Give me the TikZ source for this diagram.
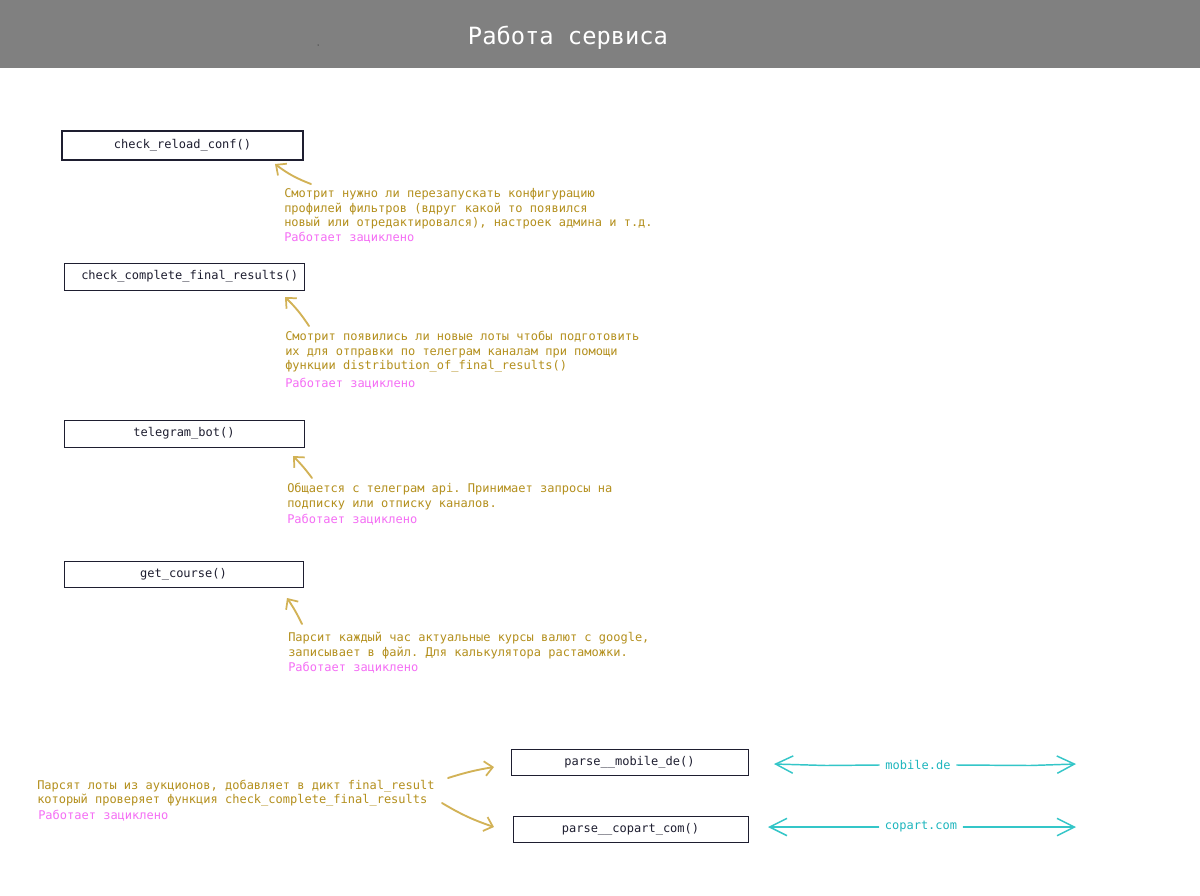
\documentclass[tikz,border=0pt]{standalone}
\usepackage{fontspec}
\setmonofont{DejaVu Sans Mono}
\usetikzlibrary{arrows.meta}
\definecolor{hdr}{RGB}{128,128,128}
\definecolor{gold}{RGB}{180,144,30}
\definecolor{goldarrow}{RGB}{210,178,86}
\definecolor{pinkc}{RGB}{245,110,245}
\definecolor{cyanc}{RGB}{52,198,200}
\definecolor{cyantext}{RGB}{30,182,190}
\definecolor{boxc}{RGB}{30,30,48}
\begin{document}
\begin{tikzpicture}[x=0.75pt,y=-0.75pt,
  fbox/.style={draw=boxc, line width=0.7pt, text=boxc, inner sep=0pt,
    font=\ttfamily\fontsize{9}{11}\selectfont},
  note/.style={text=gold, anchor=base west, inner sep=0pt,
    font=\ttfamily\fontsize{9}{11}\selectfont},
  loopnote/.style={note, text=pinkc},
  garrow/.style={draw=goldarrow, line width=1.4pt, line cap=round,
    -{Straight Barb[length=6pt,width=11pt,line width=1.3pt]}},
  carrow/.style={draw=cyanc, line width=1.1pt, line cap=round,
    -{Straight Barb[length=13pt,width=13pt,line width=1.1pt]}},
  clabel/.style={text=cyantext, inner sep=0pt,
    font=\ttfamily\fontsize{9}{11}\selectfont}
]
\useasboundingbox (0,0) rectangle (1200,896);
\fill[white] (0,0) rectangle (1200,896);
\fill[hdr] (0,0) rectangle (1200,68);
\node[text=white, inner sep=0pt, font=\ttfamily\fontsize{17.8}{20}\selectfont] (title) at (568,38) {Работа сервиса};
\fill[black] (318,45) circle (0.5);

% boxes
\node[fbox, line width=1pt, minimum width=241*0.75pt, minimum height=29*0.75pt] (b1) at (182.5,145.5) {check\_reload\_conf()};
\node[fbox, minimum width=240*0.75pt, minimum height=27*0.75pt, text width=228*0.75pt, align=right] (b2) at (184,276.5) {check\_complete\_final\_results()};
\node[fbox, minimum width=240*0.75pt, minimum height=27*0.75pt] (b3) at (184,433.5) {telegram\_bot()};
\node[fbox, minimum width=239*0.75pt, minimum height=26*0.75pt] (b4) at (183.5,574) {get\_course()};
\node[fbox, minimum width=237*0.75pt, minimum height=26*0.75pt] (b5) at (629.5,762) {parse\_\_mobile\_de()};
\node[fbox, minimum width=235*0.75pt, minimum height=26*0.75pt] (b6) at (630.5,829) {parse\_\_copart\_com()};

% block 1
\node[note] (t1a) at (284,197.5) {Смотрит нужно ли перезапускать конфигурацию};
\node[note] (t1b) at (284,212) {профилей фильтров (вдруг какой то появился};
\node[note] (t1c) at (284,226.5) {новый или отредактировался), настроек админа и т.д.};
\node[loopnote] (t1d) at (284,241.5) {Работает зациклено};
% block 2
\node[note] (t2a) at (285,340.5) {Смотрит появились ли новые лоты чтобы подготовить};
\node[note] (t2b) at (285,355) {их для отправки по телеграм каналам при помощи};
\node[note] (t2c) at (285,369.5) {функции distribution\_of\_final\_results()};
\node[loopnote] (t2d) at (285,387.5) {Работает зациклено};
% block 3
\node[note] (t3a) at (287,492.5) {Общается с телеграм api. Принимает запросы на};
\node[note] (t3b) at (287,507) {подписку или отписку каналов.};
\node[loopnote] (t3c) at (287,523.5) {Работает зациклено};
% block 4
\node[note] (t4a) at (288,641.5) {Парсит каждый час актуальные курсы валют с google,};
\node[note] (t4b) at (288,656) {записывает в файл. Для калькулятора растаможки.};
\node[loopnote] (t4c) at (288,671.5) {Работает зациклено};
% block 5
\node[note] (t5a) at (37,789.5) {Парсят лоты из аукционов, добавляет в дикт final\_result};
\node[note] (t5b) at (37,803.5) {который проверяет функция check\_complete\_final\_results};
\node[loopnote] (t5c) at (38,819.5) {Работает зациклено};

% gold arrows
\coordinate (a1s) at (311,184); \coordinate (a1e) at (275,164);
\coordinate (a2s) at (309,326); \coordinate (a2e) at (285,297);
\coordinate (a3s) at (312,478); \coordinate (a3e) at (293,456);
\coordinate (a4s) at (302,624); \coordinate (a4e) at (287,598);
\coordinate (a5s) at (448,778); \coordinate (a5e) at (494,767);
\coordinate (a6s) at (442,803); \coordinate (a6e) at (494,827);
\draw[garrow] (a1s) to[bend left=8] (a1e);
\draw[garrow] (a2s) to[bend right=6] (a2e);
\draw[garrow] (a3s) to[bend right=4] (a3e);
\draw[garrow] (a4s) to[bend right=4] (a4e);
\draw[garrow] (a5s) to[bend left=4] (a5e);
\draw[garrow] (a6s) to[bend right=6] (a6e);

% cyan arrows
\node[clabel] (m) at (918,765) {mobile.de};
\coordinate (m1) at (774,764); \coordinate (m2) at (1076,764);
\draw[carrow] (m.west) ++(-6,0) -- (826,765.5) -- (m1);
\draw[carrow] (m.east) ++(6,0) -- (1030,765.5) -- (m2);
\node[clabel] (c) at (921,827) {copart.com};
\coordinate (c1) at (768,827); \coordinate (c2) at (1076,827);
\draw[carrow] (c.west) ++(-6,0) -- (c1);
\draw[carrow] (c.east) ++(6,0) -- (c2);
\end{tikzpicture}
\end{document}
